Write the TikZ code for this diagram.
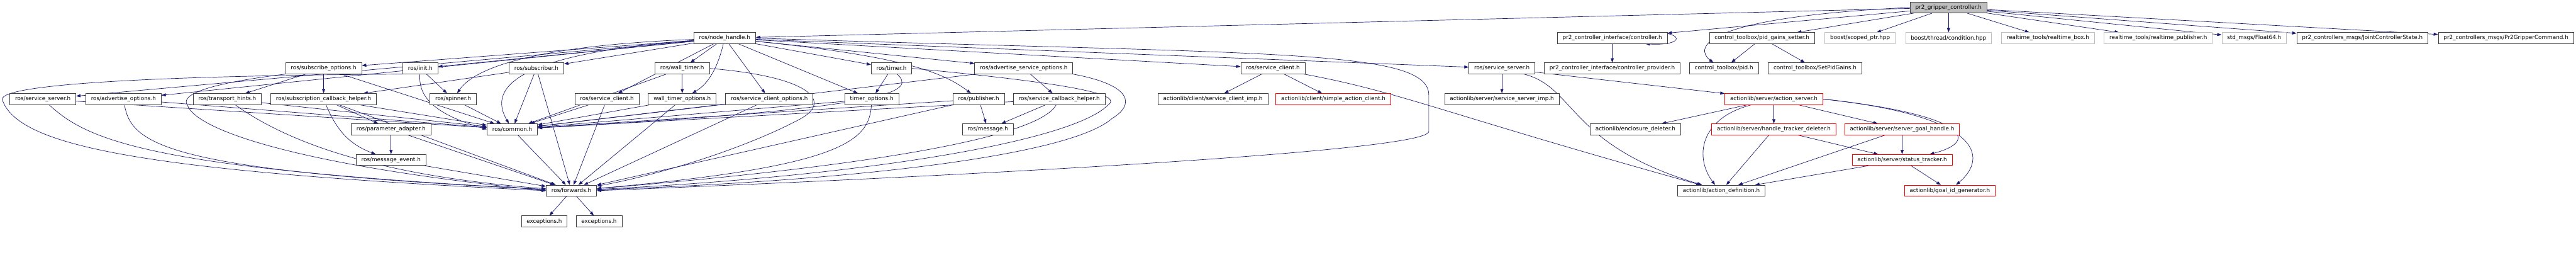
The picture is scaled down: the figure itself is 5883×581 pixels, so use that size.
\documentclass[tikz,border=0pt]{standalone}
\usepackage{fontspec}
\setmainfont{DejaVu Sans}
\usetikzlibrary{arrows.meta, backgrounds}
\definecolor{edgeblue}{RGB}{25,25,112}
\definecolor{boxgrey}{RGB}{64,64,64}
\definecolor{extgrey}{RGB}{191,191,191}
\definecolor{cutred}{RGB}{255,0,0}

\begin{document}
\begin{tikzpicture}[x=1pt, y=-1pt,
    hdr/.style={draw=boxgrey, line width=1.2pt, fill=white, minimum height=25pt,
                inner xsep=12pt, inner ysep=0pt, font=\fontsize{12.7pt}{15pt}\selectfont},
    exthdr/.style={hdr, draw=extgrey},
    cuthdr/.style={hdr, draw=cutred},
    roothdr/.style={hdr, fill=extgrey},
    dep/.style={draw=edgeblue, line width=1pt, -{Triangle[length=10pt, width=7pt]}}
]
    \useasboundingbox (0,0) rectangle (5883,581);

    % row 0
    \node[roothdr] (root) at (4450,17) {pr2\_gripper\_controller.h};
    % row 1
    \node[hdr] (nh) at (1655,87) {ros/node\_handle.h};
    \node[hdr] (ctrl) at (3682,87) {pr2\_controller\_interface/controller.h};
    \node[hdr] (pgs) at (4024,87) {control\_toolbox/pid\_gains\_setter.h};
    \node[exthdr] (sptr) at (4248,87) {boost/scoped\_ptr.hpp};
    \node[exthdr] (cond) at (4450,87) {boost/thread/condition.hpp};
    \node[exthdr] (rtbox) at (4677,87) {realtime\_tools/realtime\_box.h};
    \node[exthdr] (rtpub) at (4929,87) {realtime\_tools/realtime\_publisher.h};
    \node[exthdr] (f64) at (5148,87) {std\_msgs/Float64.h};
    \node[hdr] (jcs) at (5395,87) {pr2\_controllers\_msgs/JointControllerState.h};
    \node[hdr] (gcmd) at (5723,87) {pr2\_controllers\_msgs/Pr2GripperCommand.h};
    % row 2
    \node[hdr] (subo) at (739,156) {ros/subscribe\_options.h};
    \node[hdr] (init) at (960,156) {ros/init.h};
    \node[hdr] (sub) at (1225,156) {ros/subscriber.h};
    \node[hdr] (wt) at (1558,156) {ros/wall\_timer.h};
    \node[hdr] (tmr) at (2036,156) {ros/timer.h};
    \node[hdr] (aso) at (2338,156) {ros/advertise\_service\_options.h};
    \node[hdr] (alsc) at (2907,156) {ros/service\_client.h};
    \node[hdr] (alss) at (3430,156) {ros/service\_server.h};
    \node[hdr] (cprov) at (3682,156) {pr2\_controller\_interface/controller\_provider.h};
    \node[hdr] (pid) at (3937,156) {control\_toolbox/pid.h};
    \node[hdr] (spg) at (4145,156) {control\_toolbox/SetPidGains.h};
    % row 3
    \node[hdr] (ss) at (98,226) {ros/service\_server.h};
    \node[hdr] (ao) at (282,226) {ros/advertise\_options.h};
    \node[hdr] (th) at (519,226) {ros/transport\_hints.h};
    \node[hdr] (sch) at (739,226) {ros/subscription\_callback\_helper.h};
    \node[hdr] (spin) at (1035,226) {ros/spinner.h};
    \node[hdr] (sc) at (1386,226) {ros/service\_client.h};
    \node[hdr] (wto) at (1558,226) {wall\_timer\_options.h};
    \node[hdr] (sco) at (1757,226) {ros/service\_client\_options.h};
    \node[hdr] (tmo) at (1991,226) {timer\_options.h};
    \node[hdr] (pub) at (2235,226) {ros/publisher.h};
    \node[hdr] (srvh) at (2419,226) {ros/service\_callback\_helper.h};
    \node[hdr] (scimp) at (2770,226) {actionlib/client/service\_client\_imp.h};
    \node[cuthdr] (sac) at (3045,226) {actionlib/client/simple\_action\_client.h};
    \node[hdr] (ssimp) at (3430,226) {actionlib/server/service\_server\_imp.h};
    \node[cuthdr] (asrv) at (4051,226) {actionlib/server/action\_server.h};
    % row 4
    \node[hdr] (pa) at (893,295) {ros/parameter\_adapter.h};
    \node[hdr] (cmn) at (1170,295) {ros/common.h};
    \node[hdr] (msg) at (2256,295) {ros/message.h};
    \node[hdr] (encl) at (3735,295) {actionlib/enclosure\_deleter.h};
    \node[cuthdr] (htd) at (4051,295) {actionlib/server/handle\_tracker\_deleter.h};
    \node[cuthdr] (sgh) at (4344,295) {actionlib/server/server\_goal\_handle.h};
    % row 5
    \node[hdr] (me) at (893,365) {ros/message\_event.h};
    \node[cuthdr] (stt) at (4344,365) {actionlib/server/status\_tracker.h};
    % row 6
    \node[hdr] (fwd) at (1305,435) {ros/forwards.h};
    \node[hdr] (adef) at (3931,435) {actionlib/action\_definition.h};
    \node[cuthdr] (gid) at (4453,435) {actionlib/goal\_id\_generator.h};
    % row 7
    \node[hdr] (exc1) at (1243,505) {exceptions.h};
    \node[hdr] (exc2) at (1368,505) {exceptions.h};

    \begin{scope}[on background layer]
    % straight includes
    \foreach \a/\b in {root/nh, root/ctrl, root/pgs, root/sptr, root/cond, root/rtbox,
        root/rtpub, root/f64, root/jcs, root/gcmd,
        nh/subo, nh/init, nh/sub, nh/ss, nh/ao, nh/wt, nh/sco, nh/tmo, nh/tmr,
        nh/aso, nh/alsc, nh/alss, nh/sc,
        subo/th, subo/sch, subo/cmn, sch/pa, sch/cmn, sch/fwd, th/cmn, ss/cmn, ao/cmn,
        pa/me, pa/fwd, me/fwd, init/spin, spin/cmn, sub/cmn, sub/fwd, sub/sch,
        sc/cmn, sc/fwd, cmn/fwd, fwd/exc1, fwd/exc2,
        wt/wto, wt/cmn, wto/cmn, wto/fwd, sco/cmn, sco/fwd, tmo/cmn, tmr/tmo,
        aso/srvh, aso/cmn, pub/msg, pub/cmn, pub/fwd, srvh/msg, srvh/cmn,
        alsc/scimp, alsc/sac, alss/ssimp, alss/asrv, ctrl/cprov, pgs/pid, pgs/spg,
        asrv/encl, asrv/htd, asrv/sgh, htd/adef, htd/stt, sgh/adef, sgh/stt,
        stt/adef, stt/gid}
        \draw[dep] (\a) -- (\b);

    % curved includes
    \draw[dep] (root.west) .. controls (3880,40) and (3870,110) .. ([xshift=-24pt]pid.north);
    \draw[dep] ([xshift=-50pt]ctrl.north east) .. controls (3850,70) and (3850,105)
        .. ([xshift=-50pt]ctrl.south east);
    \draw[dep] (nh) .. controls (1200,105) and (1080,160) .. (spin);
    \draw[dep] (nh) .. controls (1150,125) and (1120,210) .. (cmn);
    \draw[dep] (nh) .. controls (1640,150) and (1620,190) .. (wto);
    \draw[dep] (nh) .. controls (2080,130) and (2160,170) .. (pub);
    \draw[dep] (nh.east) .. controls (2900,125) and (3263,110) .. (3263,217) -- (3263,300)
        .. controls (3263,350) and (2000,410) .. (fwd.east);
    \draw[dep] (init.south west) .. controls (400,172) and (0,190) .. (5,227)
        .. controls (40,330) and (300,390) .. (fwd.west);
    \draw[dep] (init) .. controls (955,220) and (990,260) .. (cmn.west);
    \draw[dep] (subo.south west) .. controls (480,190) and (410,215) .. (428,240)
        .. controls (450,300) and (700,380) .. (fwd.west);
    \draw[dep] (sch) .. controls (770,300) and (800,330) .. (me);
    \draw[dep] (ss) .. controls (200,320) and (340,385) .. (fwd);
    \draw[dep] (ao) .. controls (300,330) and (380,390) .. (fwd);
    \draw[dep] (th) .. controls (650,320) and (850,400) .. (fwd);
    \draw[dep] (wt.east) .. controls (1850,175) and (1900,230) .. (1830,270)
        .. controls (1700,340) and (1500,400) .. (fwd);
    \draw[dep] (tmr) .. controls (2085,205) and (2080,245) .. (cmn);
    \draw[dep] (tmr.east) .. controls (2500,195) and (2560,220) .. (2530,240)
        .. controls (2450,320) and (2000,400) .. (fwd);
    \draw[dep] (aso.south east) .. controls (2590,195) and (2590,240) .. (2540,270)
        .. controls (2450,350) and (2000,410) .. (fwd);
    \draw[dep] (tmo) .. controls (1985,320) and (1930,380) .. (fwd);
    \draw[dep] (srvh) .. controls (2380,300) and (2100,370) .. (fwd);
    \draw[dep] (alsc) .. controls (3200,210) and (3300,260) .. (adef);
    \draw[dep] (alss) .. controls (3600,200) and (3580,330) .. (adef);
    \draw[dep] (asrv) .. controls (3880,270) and (3870,360) .. ([xshift=-14pt]adef.north);
    \draw[dep] (asrv.east) .. controls (4480,260) and (4530,320) .. ([xshift=63pt]stt.north);
    \draw[dep] (asrv.east) .. controls (4530,265) and (4540,360) .. ([xshift=14pt]gid.north);
    \end{scope}
\end{tikzpicture}
\end{document}
